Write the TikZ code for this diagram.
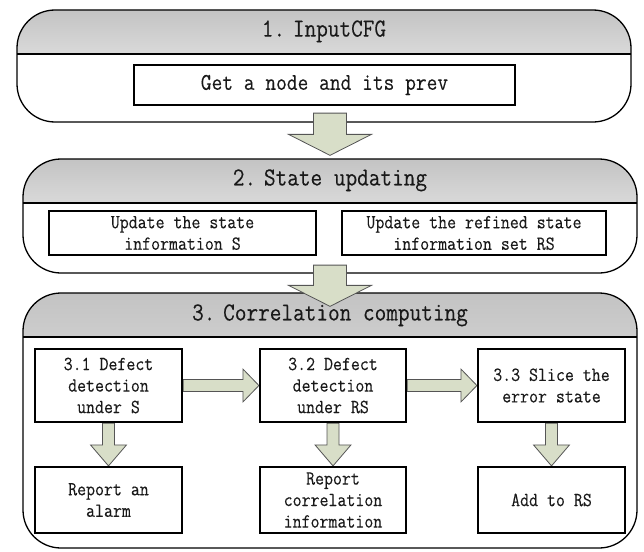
\documentclass[tikz,border=0pt]{standalone}
\usepackage{fontspec}
\usepackage{tikz}
\usepackage{xcolor}
\usetikzlibrary{calc}
\newfontfamily\flowfont{Latin Modern Mono}[FakeBold=0.2, FakeStretch=0.87]
\definecolor{flowline}{RGB}{0, 0, 0}
\definecolor{flowtext}{RGB}{25, 25, 25}
\definecolor{flowarrow}{RGB}{216, 222, 200}
\definecolor{flowarrowline}{RGB}{85, 85, 85}
\definecolor{flowheadtop}{RGB}{195, 195, 195}
\definecolor{flowheadbottom}{RGB}{252, 252, 252}

\pgfdeclarelayer{panels}
\pgfdeclarelayer{arrows}
\pgfsetlayers{panels,arrows,main}

\tikzset{
  panel/.style={draw=flowline, line width=1.3pt, rounded corners=38pt, fill=white, inner sep=0pt,
    minimum width=614pt,
    path picture={
      \shade[sharp corners, top color=flowheadtop, bottom color=flowheadbottom]
        (path picture bounding box.north west) rectangle ([yshift=-44pt]path picture bounding box.north east);
      \draw[sharp corners, line width=1.3pt]
        ([yshift=-44pt]path picture bounding box.north west) -- ([yshift=-44pt]path picture bounding box.north east);
    }},
  stagetitle/.style={font=\flowfont\fontsize{26}{28}\selectfont, text=flowtext},
  stepbox/.style={draw=flowline, line width=2.2pt, fill=white, inner sep=0pt, align=center,
    text=flowtext, font=\flowfont\fontsize{20}{21.5}\selectfont},
  blockarrow/.style={fill=flowarrow, draw=flowarrowline, line width=0.8pt, line join=miter}
}

\newcommand{\downblock}[5]{%
  \draw[blockarrow] ($(#1)+(-#3,0)$) -- ($(#2)+(-#3,-#5)$) -- ($(#2)+(-#4,-#5)$) -- (#2)
    -- ($(#2)+(#4,-#5)$) -- ($(#2)+(#3,-#5)$) -- ($(#1)+(#3,0)$) -- cycle;}
\newcommand{\rightblock}[5]{%
  \draw[blockarrow] ($(#1)+(0,-#3)$) -- ($(#2)+(-#5,-#3)$) -- ($(#2)+(-#5,-#4)$) -- (#2)
    -- ($(#2)+(-#5,#4)$) -- ($(#2)+(-#5,#3)$) -- ($(#1)+(0,#3)$) -- cycle;}

\begin{document}
\begin{tikzpicture}[x=1pt, y=-1pt]
\useasboundingbox (0,0) rectangle (644,551);

\begin{pgfonlayer}{panels}
\node[panel, minimum height=112pt] (p1) at (324,66) {};
\node[panel, minimum height=114pt] (p2) at (330,216) {};
\node[panel, minimum height=255pt] (p3) at (330,420.5) {};
\end{pgfonlayer}
\node[stagetitle] (t1) at ([yshift=-22pt]p1.north) {1.\kern0.3em InputCFG};
\node[stagetitle] (t2) at ([yshift=-22pt]p2.north) {2.\kern0.3em State updating};
\node[stagetitle] (t3) at ([yshift=-23pt]p3.north) {3.\kern0.3em Correlation computing};

\node[stepbox, minimum width=381pt, minimum height=40pt, font=\flowfont\fontsize{24}{26}\selectfont] (b1) at (324.5,85) {Get a node and its prev};
\node[stepbox, minimum width=267pt, minimum height=44pt] (b2a) at (182.5,233) {Update the state\\information S};
\node[stepbox, minimum width=264pt, minimum height=44pt] (b2b) at (474,233) {Update the refined state\\information set RS};

\node[stepbox, minimum width=147pt, minimum height=73pt] (c1) at (108.5,385.5) {3.1 Defect\\detection\\under S};
\node[stepbox, minimum width=146pt, minimum height=73pt] (c2) at (333,385.5) {3.2 Defect\\detection\\under RS};
\node[stepbox, minimum width=147pt, minimum height=73pt] (c3) at (551.5,385.5) {3.3 Slice the\\error state};
\node[stepbox, minimum width=147pt, minimum height=66pt] (d1) at (108.5,500) {Report an\\alarm};
\node[stepbox, minimum width=146pt, minimum height=66pt] (d2) at (333,500) {Report\\correlation\\information};
\node[stepbox, minimum width=147pt, minimum height=66pt] (d3) at (551.5,500) {Add to RS};

\coordinate (a1s) at ($(b1.south -| p2.north)+(0,7)$);
\coordinate (a1e) at ($(p2.north)+(0,-3)$);
\coordinate (a2s) at ($(b2a.south -| p3.north)+(0,9)$);
\coordinate (a2e) at ($(p3.north)+(0,14)$);

\begin{pgfonlayer}{arrows}
\downblock{a1s}{a1e}{16.5}{41.5}{21}
\downblock{a2s}{a2e}{16.5}{41.5}{21}
\rightblock{c1.east}{c2.west}{6}{16.5}{16}
\rightblock{c2.east}{c3.west}{6}{16.5}{16}
\downblock{c1.south}{d1.north}{6}{18}{21}
\downblock{c2.south}{d2.north}{6}{18}{21}
\downblock{c3.south}{d3.north}{6}{18}{21}
\end{pgfonlayer}
\end{tikzpicture}
\end{document}
